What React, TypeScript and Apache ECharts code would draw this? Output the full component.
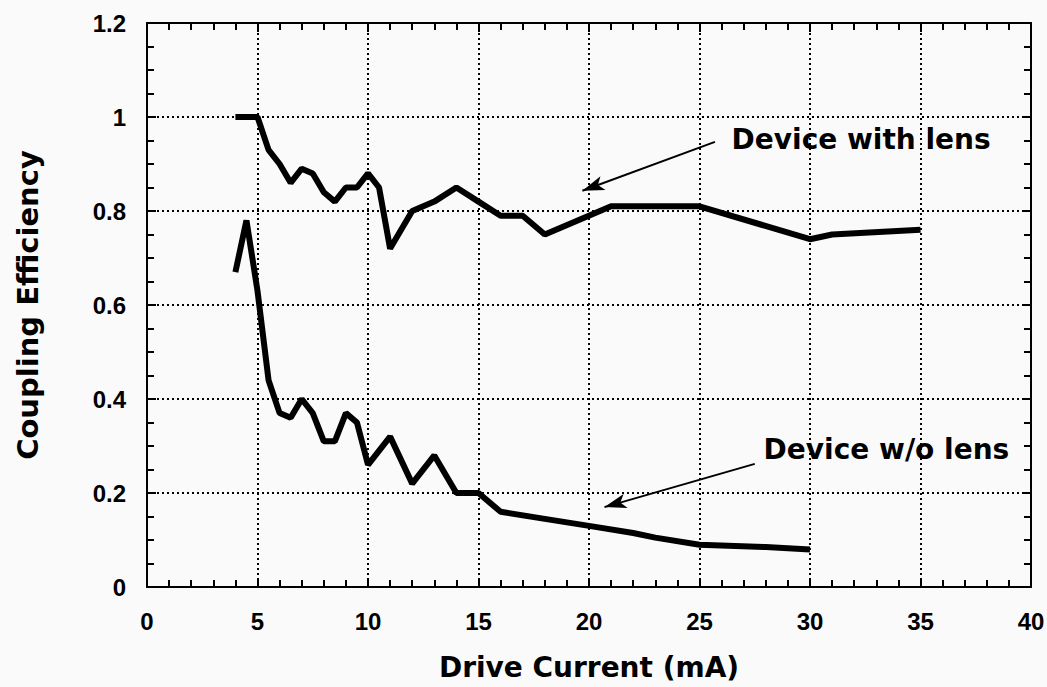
import React, { useEffect, useRef } from "react";
import * as echarts from "echarts";

const lensX = [4, 5, 5.5, 6, 6.5, 7, 7.5, 8, 8.5, 9, 9.5, 10, 10.5, 11, 12, 13, 14, 15, 16, 17, 18, 21, 25, 30, 31, 35];
const lensY = [1, 1, 0.93, 0.9, 0.86, 0.89, 0.88, 0.84, 0.82, 0.85, 0.85, 0.88, 0.85, 0.72, 0.8, 0.82, 0.85, 0.82, 0.79, 0.79, 0.75, 0.81, 0.81, 0.74, 0.75, 0.76];

const noLensX = [4, 4.5, 5, 5.5, 6, 6.5, 7, 7.5, 8, 8.5, 9, 9.5, 10, 11, 12, 13, 14, 15, 16, 18, 20, 22, 23, 25, 28, 30];
const noLensY = [0.67, 0.78, 0.63, 0.44, 0.37, 0.36, 0.4, 0.37, 0.31, 0.31, 0.37, 0.35, 0.26, 0.32, 0.22, 0.28, 0.2, 0.2, 0.16, 0.145, 0.13, 0.115, 0.105, 0.09, 0.085, 0.08];

// annotation anchors in data coordinates
const lensNote = { text: "Device with lens", at: [26.45, 0.953], from: [25.7, 0.947], to: [19.7, 0.843] };
const noLensNote = { text: "Device w/o lens", at: [27.9, 0.293], from: [27.5, 0.262], to: [20.7, 0.17] };

const xTicks = { min: 0, max: 40, interval: 5 };
const yTicks = { min: 0, max: 1.2, interval: 0.2 };

const zip = (xs: number[], ys: number[]) => xs.map((x, i) => [x, ys[i]]);

export default function App() {
  const ref = useRef<HTMLDivElement>(null);
  useEffect(() => {
    document.body.style.margin = "0";
    const chart = echarts.init(ref.current!, null, { renderer: "svg" });
    const tickFont = "'Liberation Sans', Arial, Helvetica, sans-serif";
    const titleFont = "'DejaVu Sans', 'Liberation Sans', sans-serif";
    const axisCommon = (pos: string, showLabel: boolean, isX: boolean) => ({
      type: "value",
      position: pos,
      min: isX ? xTicks.min : yTicks.min,
      max: isX ? xTicks.max : yTicks.max,
      interval: isX ? xTicks.interval : yTicks.interval,
      axisLine: { show: true, onZero: false, lineStyle: { color: "#000", width: 2 } },
      axisTick: { show: true, inside: true, length: 9, lineStyle: { color: "#000", width: 2 } },
      minorTick: { show: true, splitNumber: isX ? 5 : 4, length: 7, lineStyle: { color: "#000", width: 2 } },
      splitLine: { show: showLabel, lineStyle: { color: "#000", width: 2, type: [2, 3] } },
      axisLabel: {
        show: showLabel,
        color: "#000",
        fontFamily: tickFont,
        fontWeight: "bold",
        fontSize: 24,
        margin: showLabel ? (isX ? 22 : 21) : 0,
        formatter: (v: number) => (isX ? String(v) : String(Math.round(v * 10) / 10)),
      },
    });
    const arrowLine = (note: any) => ({
      silent: true,
      symbol: ["none", "arrow"],
      symbolSize: [11, 22],
      label: { show: false },
      lineStyle: { color: "#000", width: 2, type: "solid" },
      data: [[{ coord: note.from }, { coord: note.to }]],
    });
    chart.setOption({
      animation: false,
      backgroundColor: "#fafafa",
      grid: { left: 147, right: 16, top: 23, bottom: 100, containLabel: false, outerBoundsMode: "none" },
      xAxis: [
        {
          ...axisCommon("bottom", true, true),
          name: "Drive Current (mA)",
          nameLocation: "middle",
          nameGap: 66,
          nameTextStyle: { color: "#000", fontFamily: titleFont, fontWeight: "bold", fontSize: 28 },
        },
        { ...axisCommon("top", false, true) },
      ],
      yAxis: [
        {
          ...axisCommon("left", true, false),
          name: "Coupling Efficiency",
          nameLocation: "middle",
          nameGap: 105,
          nameTextStyle: { color: "#000", fontFamily: titleFont, fontWeight: "bold", fontSize: 29 },
        },
        { ...axisCommon("right", false, false) },
      ],
      series: [
        {
          type: "line",
          data: zip(lensX, lensY),
          showSymbol: false,
          symbol: "none",
          lineStyle: { color: "#000", width: 6 },
          markLine: arrowLine(lensNote),
        },
        {
          type: "line",
          data: zip(noLensX, noLensY),
          showSymbol: false,
          symbol: "none",
          lineStyle: { color: "#000", width: 6 },
          markLine: arrowLine(noLensNote),
        },
      ],
    });
    const p1 = chart.convertToPixel({ gridIndex: 0 }, lensNote.at);
    const p2 = chart.convertToPixel({ gridIndex: 0 }, noLensNote.at);
    const txt = (p: number[], s: string) => ({
      type: "text",
      x: p[0],
      y: p[1],
      style: {
        text: s,
        fill: "#000",
        font: `bold 28px ${titleFont}`,
        verticalAlign: "middle",
        align: "left",
      },
    });
    chart.setOption({ graphic: [txt(p1, lensNote.text), txt(p2, noLensNote.text)] });
    return () => chart.dispose();
  }, []);
  return <div ref={ref} style={{ width: 1047, height: 687 }} />;
}
